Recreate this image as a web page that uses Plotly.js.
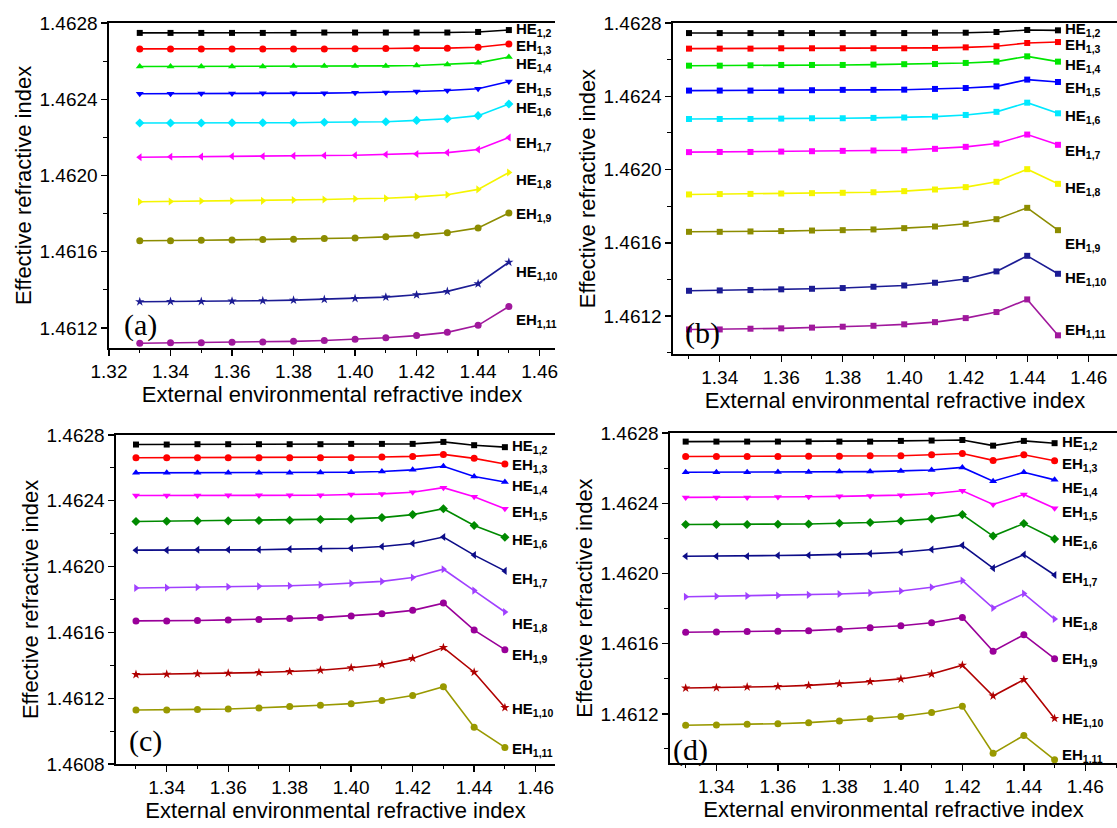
<!DOCTYPE html>
<html>
<head>
<meta charset="utf-8">
<script src="https://cdn.plot.ly/plotly-3.0.1.min.js"></script>
<style>html,body{margin:0;padding:0;background:#fff;}#chart{width:1117px;height:828px;}</style>
</head>
<body>
<div id="chart"></div>
<script>
// ---------- DATA ----------
const xVals = [1.33,1.34,1.35,1.36,1.37,1.38,1.39,1.40,1.41,1.42,1.43,1.44,1.45];
const modeLabels = ["HE<sub>1,2</sub>","EH<sub>1,3</sub>","HE<sub>1,4</sub>","EH<sub>1,5</sub>","HE<sub>1,6</sub>",
                    "EH<sub>1,7</sub>","HE<sub>1,8</sub>","EH<sub>1,9</sub>","HE<sub>1,10</sub>","EH<sub>1,11</sub>"];
const panelNames = ["(a)","(b)","(c)","(d)"];
const xTitle = "External environmental refractive index";
const yTitle = "Effective refractive index";

const panelA = [
  [1.462748,1.462748,1.462748,1.462748,1.462748,1.462748,1.46275,1.46275,1.46275,1.46275,1.46275,1.462753,1.462763],
  [1.462664,1.462664,1.462664,1.462664,1.462664,1.462664,1.462664,1.462665,1.462666,1.462668,1.462668,1.462673,1.46269],
  [1.462572,1.462572,1.462572,1.462572,1.462572,1.462575,1.462575,1.462575,1.462575,1.462577,1.462582,1.462591,1.462622],
  [1.462429,1.462429,1.46243,1.46243,1.462431,1.462431,1.462432,1.462434,1.462436,1.462441,1.462446,1.462455,1.462493],
  [1.462275,1.462275,1.462275,1.462277,1.462277,1.462277,1.462279,1.46228,1.462282,1.462289,1.462298,1.462314,1.462375],
  [1.462096,1.462098,1.462099,1.462101,1.462101,1.462103,1.462105,1.462106,1.46211,1.462113,1.46212,1.462136,1.462199],
  [1.461862,1.461864,1.461866,1.461866,1.461867,1.461871,1.461874,1.461878,1.461881,1.461888,1.461899,1.461927,1.462016],
  [1.461658,1.461658,1.46166,1.461662,1.461664,1.461665,1.461669,1.461672,1.461678,1.461686,1.4617,1.461725,1.461803],
  [1.461338,1.461339,1.461339,1.461341,1.461343,1.461346,1.46135,1.461355,1.461362,1.461374,1.461392,1.461432,1.461545],
  [1.46112,1.461122,1.461122,1.461125,1.461127,1.46113,1.461134,1.461141,1.461149,1.46116,1.461177,1.461214,1.461313]
];
const panelB = [
  [1.462745,1.462745,1.462745,1.462745,1.462745,1.462745,1.462745,1.462745,1.462747,1.462747,1.462751,1.462762,1.46276],
  [1.46266,1.46266,1.46266,1.462662,1.462662,1.462662,1.462662,1.462662,1.462664,1.462667,1.462673,1.462691,1.462696],
  [1.462567,1.462567,1.462569,1.462571,1.462571,1.462571,1.462573,1.462575,1.462576,1.462582,1.462589,1.462618,1.462589],
  [1.462431,1.462431,1.462431,1.462431,1.462433,1.462435,1.462435,1.462436,1.46244,1.462445,1.462454,1.462491,1.462478],
  [1.462276,1.462276,1.462276,1.462278,1.46228,1.46228,1.462282,1.462284,1.462289,1.462298,1.462315,1.462365,1.462307],
  [1.462095,1.462096,1.462096,1.462098,1.4621,1.462102,1.462104,1.462105,1.462113,1.462124,1.462142,1.462191,1.462135],
  [1.461864,1.461866,1.461867,1.461869,1.461871,1.461873,1.461876,1.461882,1.461891,1.461904,1.461933,1.462002,1.461922],
  [1.46166,1.46166,1.461662,1.461664,1.461667,1.461669,1.461673,1.46168,1.461689,1.461704,1.461729,1.461791,1.461669],
  [1.461338,1.46134,1.461342,1.461346,1.461349,1.461353,1.46136,1.461367,1.461382,1.461402,1.461444,1.461529,1.461431],
  [1.461127,1.461127,1.461131,1.461133,1.461137,1.461142,1.461147,1.461155,1.461167,1.461189,1.461222,1.461291,1.461095]
];
const panelC = [
  [1.462742,1.462742,1.462744,1.462744,1.462744,1.462744,1.462744,1.462746,1.462746,1.462746,1.462758,1.462738,1.462726],
  [1.462662,1.462662,1.462662,1.462662,1.462662,1.462662,1.462662,1.462662,1.462666,1.46267,1.462682,1.462658,1.462624],
  [1.46257,1.46257,1.46257,1.46257,1.46257,1.46257,1.462572,1.462574,1.462578,1.462588,1.46261,1.462548,1.462514],
  [1.462432,1.462432,1.462432,1.462434,1.462434,1.462434,1.462434,1.462438,1.462442,1.462452,1.46248,1.462424,1.462352],
  [1.462274,1.462276,1.462278,1.462278,1.46228,1.462282,1.462286,1.46229,1.462298,1.462316,1.462352,1.46225,1.462178],
  [1.4621,1.4621,1.462102,1.462102,1.462102,1.462106,1.462108,1.462112,1.462122,1.46214,1.46218,1.46207,1.461974],
  [1.46187,1.461872,1.461874,1.461878,1.46188,1.461884,1.46189,1.461898,1.46191,1.461934,1.461984,1.461854,1.461724],
  [1.46167,1.46167,1.461672,1.461676,1.461678,1.461684,1.46169,1.4617,1.461714,1.461734,1.461778,1.461614,1.461495],
  [1.461344,1.461346,1.461348,1.461352,1.461356,1.461362,1.46137,1.461385,1.461405,1.461442,1.461508,1.461358,1.461143],
  [1.461128,1.461128,1.461132,1.461134,1.46114,1.461149,1.461157,1.461167,1.461186,1.461216,1.46127,1.461024,1.460901]
];
const panelD = [
  [1.462751,1.462751,1.462751,1.462751,1.462751,1.462751,1.462751,1.462755,1.462757,1.46276,1.462728,1.462755,1.462742],
  [1.462666,1.462666,1.462666,1.462666,1.462668,1.462668,1.46267,1.46267,1.462676,1.462683,1.462644,1.462676,1.462642],
  [1.462576,1.462576,1.462576,1.462578,1.462578,1.46258,1.46258,1.462584,1.462589,1.462604,1.462525,1.462576,1.462533],
  [1.462433,1.462433,1.462433,1.462435,1.462437,1.462439,1.462441,1.462446,1.462454,1.462471,1.462393,1.46245,1.462371],
  [1.462279,1.462279,1.462279,1.46228,1.462282,1.462286,1.46229,1.462299,1.462311,1.462335,1.462213,1.462284,1.462196],
  [1.462098,1.462098,1.462098,1.462102,1.462104,1.462107,1.462113,1.462121,1.462136,1.46216,1.46203,1.462107,1.461991],
  [1.461867,1.46187,1.461872,1.461874,1.461878,1.461883,1.461889,1.4619,1.461921,1.461959,1.461803,1.461885,1.46174],
  [1.461665,1.461667,1.461669,1.461671,1.461674,1.461682,1.461691,1.461702,1.461719,1.461749,1.461557,1.46165,1.461514],
  [1.461347,1.461349,1.461353,1.461356,1.461362,1.461371,1.461384,1.461399,1.461427,1.461477,1.461302,1.461395,1.461174],
  [1.461135,1.461137,1.461141,1.461144,1.46115,1.461159,1.461172,1.461185,1.461208,1.461243,1.460975,1.461077,1.460938]
];

// ---------- STYLE ----------
const W = 1117, H = 828;
const FONT = "Liberation Sans, Arial, sans-serif";
const colorsAB = ["#000000","#ff0000","#00e600","#0000ff","#00e8ff","#ff00ff","#f5f500","#8c8c00","#1c1c94","#a0189c"];
const colorsCD = ["#000000","#ff0000","#0000ff","#ff00ff","#008a00","#0c0c88","#a040ff","#990099","#b00000","#999900"];
const symAC = ["square","circle","triangle-up","triangle-down","diamond","triangle-left","triangle-right","circle","star","circle"];
const symB = Array(10).fill("square");
const sizesAC = [6,7,7,7,7,7,7,7,7,7];

// plot boxes in pixels: [left, right, top, bottom], x range, y range
const boxes = [
  {px:[109,555,23,348], xr:[1.32,1.465], yr:[1.461095,1.4628]},
  {px:[673,1117,23,354], xr:[1.3248,1.4692], yr:[1.460993,1.4628]},
  {px:[116,555,435,764], xr:[1.3235,1.4663], yr:[1.4608,1.4628]},
  {px:[670,1117,433,763], xr:[1.3249,1.4703], yr:[1.46092,1.4628]}
];
const labelShift = [
  [1,-3,-8,-7,-4,-6,-8,-1,-10,-14],
  [1,-3,-4,-7,-3,-7,-5,-14,-5,5],
  [1,-2,-4,-4,-3,-9,-12,-6,-2,-2],
  [1,-4,-9,-4,-2,-3,-3,-1,-1,4]
];
const panelLabelPos = [[140,325],[702,333],[145,741],[690,750]];

const panels = [panelA, panelB, panelC, panelD];
const traces = [];
const annotations = [];
const layout = {
  width: W, height: H,
  margin: {l:0, r:0, t:0, b:0},
  paper_bgcolor: "#ffffff", plot_bgcolor: "rgba(0,0,0,0)",
  showlegend: false,
  font: {family: FONT, color: "#000"}
};

panels.forEach((series, p) => {
  const b = boxes[p];
  const xa = p === 0 ? "x" : "x" + (p + 1);
  const ya = p === 0 ? "y" : "y" + (p + 1);
  const colors = p < 2 ? colorsAB : colorsCD;
  const syms = p === 1 ? symB : symAC;
  series.forEach((ys, i) => {
    traces.push({
      x: xVals, y: ys, xaxis: xa, yaxis: ya,
      type: "scatter", mode: "lines+markers",
      line: {color: colors[i], width: 1.6},
      marker: {color: colors[i], symbol: syms[i], size: p === 1 ? 6 : sizesAC[i]},
      hoverinfo: "skip"
    });
    annotations.push({
      xref: xa, yref: ya, x: xVals[xVals.length - 1], y: ys[ys.length - 1],
      xanchor: "left", yanchor: "middle", xshift: 5, yshift: labelShift[p][i],
      text: "<b>" + modeLabels[i] + "</b>", showarrow: false,
      font: {family: FONT, size: 15, color: "#000"}
    });
  });
  const axX = p === 0 ? "xaxis" : "xaxis" + (p + 1);
  const axY = p === 0 ? "yaxis" : "yaxis" + (p + 1);
  layout[axX] = {
    domain: [b.px[0] / W, b.px[1] / W], anchor: ya, range: b.xr,
    dtick: 0.02, tick0: 1.32, tickformat: ".2f",
    showline: true, linecolor: "#000", linewidth: 1.6, mirror: true,
    ticks: "outside", ticklen: 6, tickwidth: 1.4, tickcolor: "#000",
    minor: {dtick: 0.01, ticks: "outside", ticklen: 3, tickcolor: "#000", tickwidth: 1},
    showgrid: false, zeroline: false,
    tickfont: {size: 19, family: FONT},
    title: {text: xTitle, font: {size: 22, family: FONT}, standoff: 4}
  };
  layout[axY] = {
    domain: [1 - b.px[3] / H, 1 - b.px[2] / H], anchor: xa, range: b.yr,
    dtick: 0.0004, tick0: 1.4608, tickformat: ".4f",
    showline: true, linecolor: "#000", linewidth: 1.6, mirror: false,
    ticks: "outside", ticklen: 6, tickwidth: 1.4, tickcolor: "#000",
    minor: {dtick: 0.0002, ticks: "outside", ticklen: 4, tickcolor: "#000", tickwidth: 1},
    showgrid: false, zeroline: false,
    tickfont: {size: 19, family: FONT},
    title: {text: yTitle, font: {size: 22, family: FONT}, standoff: 2}
  };
  annotations.push({
    xref: "paper", yref: "paper",
    x: panelLabelPos[p][0] / W, y: 1 - panelLabelPos[p][1] / H,
    xanchor: "center", yanchor: "middle", showarrow: false,
    text: panelNames[p],
    font: {family: "Liberation Serif, Times New Roman, serif", size: 30, color: "#000"}
  });
});
layout.annotations = annotations;

Plotly.newPlot("chart", traces, layout, {staticPlot: true, displayModeBar: false});
</script>
</body>
</html>
